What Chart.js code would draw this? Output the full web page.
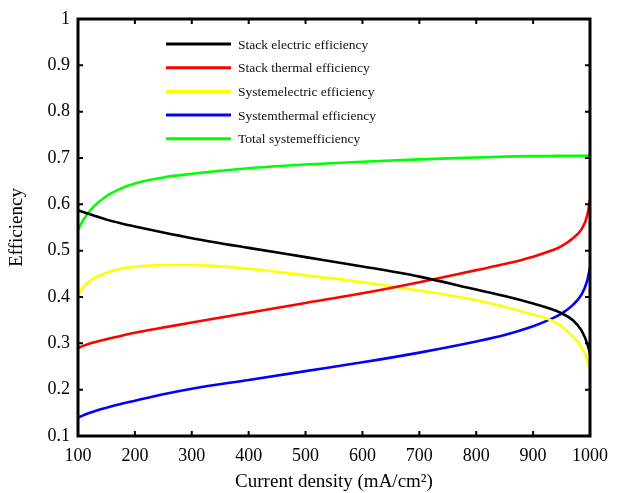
<!DOCTYPE html>
<html>
<head>
<meta charset="utf-8">
<script src="https://cdn.jsdelivr.net/npm/chart.js@4.4.1/dist/chart.umd.min.js"></script>
<style>
  html, body { margin: 0; padding: 0; background: #fff; }
  #wrap { width: 621px; height: 493px; }
</style>
</head>
<body>
<div id="wrap"><canvas id="effChart"></canvas></div>
<script>
/* ---------- data ---------- */
const currentDensity = [100, 110, 125, 150, 175, 200, 250, 300, 400, 500, 600, 700, 800, 850, 900, 925, 950, 970, 985, 995, 1000];

const stackElectric  = [0.587, 0.583, 0.577, 0.567, 0.559, 0.552, 0.539, 0.527, 0.506, 0.486, 0.466, 0.444, 0.416, 0.402, 0.386, 0.377, 0.365, 0.350, 0.328, 0.300, 0.278];
const stackThermal   = [0.290, 0.295, 0.301, 0.309, 0.316, 0.323, 0.334, 0.345, 0.366, 0.387, 0.408, 0.432, 0.458, 0.471, 0.487, 0.497, 0.510, 0.527, 0.546, 0.575, 0.610];
const systemElectric = [0.405, 0.422, 0.438, 0.452, 0.461, 0.465, 0.469, 0.469, 0.461, 0.447, 0.432, 0.414, 0.393, 0.379, 0.362, 0.353, 0.337, 0.314, 0.292, 0.265, 0.242];
const systemThermal  = [0.140, 0.145, 0.152, 0.161, 0.169, 0.176, 0.190, 0.202, 0.221, 0.240, 0.259, 0.280, 0.304, 0.318, 0.337, 0.349, 0.364, 0.383, 0.405, 0.435, 0.463];
const totalSystem    = [0.545, 0.568, 0.592, 0.618, 0.634, 0.645, 0.658, 0.666, 0.678, 0.686, 0.692, 0.697, 0.701, 0.703, 0.704, 0.704, 0.705, 0.705, 0.705, 0.705, 0.705];

const seriesLabels = ['Stack electric efficiency', 'Stack thermal efficiency', 'Systemelectric efficiency', 'Systemthermal efficiency', 'Total systemefficiency'];
const seriesColors = ['#000000', '#ff0000', '#ffff00', '#0000ff', '#00ff00'];
const seriesValues = [stackElectric, stackThermal, systemElectric, systemThermal, totalSystem];

const xTicks = [100, 200, 300, 400, 500, 600, 700, 800, 900, 1000];
const yTicks = [0.1, 0.2, 0.3, 0.4, 0.5, 0.6, 0.7, 0.8, 0.9, 1];

const SERIF = "'Liberation Serif', 'DejaVu Serif', serif";

/* ---------- frame + inward ticks + inner legend ---------- */
const framePlugin = {
  id: 'frame',
  afterDatasetsDraw(chart) {
    const { ctx, chartArea: a, scales } = chart;
    ctx.save();
    ctx.strokeStyle = '#000';
    ctx.lineWidth = 2;
    xTicks.forEach(v => {
      const px = scales.x.getPixelForValue(v);
      ctx.beginPath();
      ctx.moveTo(px, a.bottom); ctx.lineTo(px, a.bottom - 5);
      ctx.moveTo(px, a.top); ctx.lineTo(px, a.top + 5);
      ctx.stroke();
    });
    yTicks.forEach(v => {
      const py = scales.y.getPixelForValue(v);
      ctx.beginPath();
      ctx.moveTo(a.left, py); ctx.lineTo(a.left + 5, py);
      ctx.moveTo(a.right, py); ctx.lineTo(a.right - 5, py);
      ctx.stroke();
    });
    ctx.lineWidth = 3;
    ctx.strokeRect(a.left, a.top, a.right - a.left, a.bottom - a.top);

    // legend inside plot, no box
    ctx.font = '13.5px ' + SERIF;
    ctx.textBaseline = 'middle';
    chart.data.datasets.forEach((ds, i) => {
      const y = a.top + 25 + i * 23.7;
      ctx.strokeStyle = ds.borderColor;
      ctx.lineWidth = 3;
      ctx.beginPath();
      ctx.moveTo(a.left + 88, y); ctx.lineTo(a.left + 153, y);
      ctx.stroke();
      ctx.fillStyle = '#111';
      ctx.fillText(ds.label, a.left + 160, y + 1);
    });
    ctx.restore();
  }
};

new Chart(document.getElementById('effChart'), {
  type: 'line',
  data: {
    labels: currentDensity,
    datasets: seriesValues.map((vals, i) => ({
      label: seriesLabels[i],
      data: vals.map((v, j) => ({ x: currentDensity[j], y: v })),
      borderColor: seriesColors[i],
      backgroundColor: seriesColors[i],
      borderWidth: 2.6,
      pointRadius: 0,
      cubicInterpolationMode: 'monotone',
      fill: false,
    }))
  },
  options: {
    responsive: true,
    maintainAspectRatio: false,
    animation: false,
    layout: { padding: { left: 0, top: 19, right: 31, bottom: 0 } },
    plugins: { legend: { display: false }, tooltip: { enabled: false } },
    scales: {
      x: {
        type: 'linear',
        min: 100, max: 1000,
        afterFit: s => { s.height = 57; },
        afterBuildTicks: s => { s.ticks = xTicks.map(v => ({ value: v })); },
        grid: { display: false, drawTicks: false },
        border: { display: false },
        ticks: { color: '#000', padding: 9, font: { family: SERIF, size: 18 }, maxRotation: 0, callback: v => String(v) },
        title: { display: true, text: 'Current density (mA/cm²)', color: '#000', padding: 0, font: { family: SERIF, size: 19 } }
      },
      y: {
        min: 0.1, max: 1,
        afterFit: s => { s.width = 78; },
        afterBuildTicks: s => { s.ticks = yTicks.map(v => ({ value: v })); },
        grid: { display: false, drawTicks: false },
        border: { display: false },
        ticks: { color: '#000', padding: 8, font: { family: SERIF, size: 18 }, callback: v => String(v) },
        title: { display: true, text: 'Efficiency', color: '#000', padding: { top: 6, bottom: 0 }, font: { family: SERIF, size: 19 } }
      }
    }
  },
  plugins: [framePlugin]
});
</script>
</body>
</html>
